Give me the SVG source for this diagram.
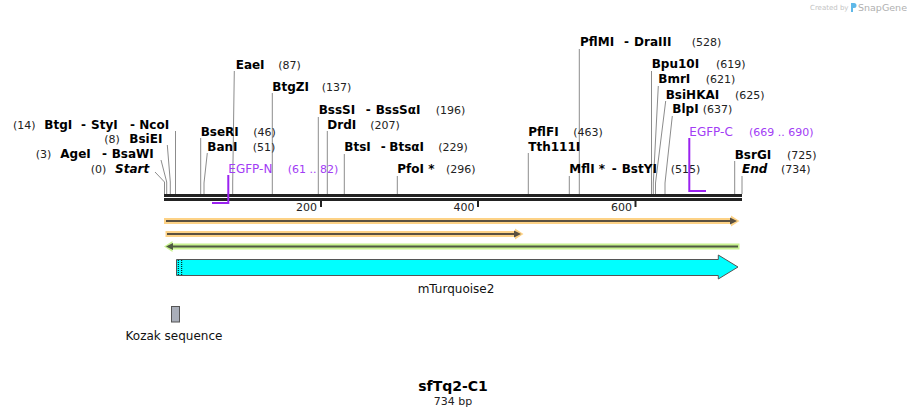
<svg xmlns="http://www.w3.org/2000/svg" width="907" height="417" viewBox="0 0 907 417">
<style>
text { font-family: "DejaVu Sans", Verdana, sans-serif; }
.n { font-size: 12px; font-weight: bold; fill: #000; }
.i { font-size: 12px; font-weight: bold; font-style: italic; fill: #000; }
.p { font-size: 11px; fill: #222; }
.f { font-size: 12px; fill: #a23cf5; }
.fp { font-size: 11px; fill: #a23cf5; }
.t { font-size: 11px; fill: #222; }
.lb { font-size: 12px; fill: #111; }
.ln { stroke: #8c8c8c; stroke-width: 1; fill: none; }
.pr { stroke: #9b22f0; stroke-width: 2; fill: none; }
.tk { stroke: #222; stroke-width: 2; }
</style>
<rect width="907" height="417" fill="#fff"/>

<g id="watermark">
<text x="810" y="10" style="font-size:7px;fill:#c4c4c4">Created by</text>
<path d="M851,3 h3 a2.5,2.5 0 0 1 0,5 h-1 v4 h-2 z" fill="#5fb8e8"/>
<text x="858" y="11" style="font-size:9.5px;fill:#b0b0b0">SnapGene</text>
</g>

<g id="connectors">
<polyline class="ln" points="155,172 164.5,182 164.5,194"/>
<polyline class="ln" points="161,160 166.7,182 166.7,194"/>
<polyline class="ln" points="167.3,145 170.3,182 170.3,194"/>
<polyline class="ln" points="175.5,131 175.5,194"/>
<polyline class="ln" points="200.7,138 200.7,194"/>
<polyline class="ln" points="207.3,153 204,183 204,194"/>
<polyline class="ln" points="234.3,71 232.7,183 232.7,194"/>
<polyline class="ln" points="272.3,93 272.3,194"/>
<polyline class="ln" points="318.3,117 318.3,194"/>
<polyline class="ln" points="327.3,131 327.3,194"/>
<polyline class="ln" points="344.3,154 344.3,194"/>
<polyline class="ln" points="397.3,176 397.3,194"/>
<polyline class="ln" points="528.3,153 528.3,194"/>
<polyline class="ln" points="569.3,176 569.3,194"/>
<polyline class="ln" points="579.3,49 579.3,194"/>
<polyline class="ln" points="651.5,71 651.5,194"/>
<polyline class="ln" points="658.3,86 653.3,183 653.3,194"/>
<polyline class="ln" points="665.7,101 655.5,183 655.5,194"/>
<polyline class="ln" points="672.3,116 665,183 665,194"/>
<polyline class="ln" points="734.7,161 734.7,194"/>
<polyline class="ln" points="742,176 742,194"/>
</g>

<g id="backbone">
<rect x="164" y="194" width="578" height="3" fill="#222"/>
<rect x="164" y="198" width="578" height="3" fill="#222"/>
<line class="tk" x1="321" y1="200" x2="321" y2="207"/>
<line class="tk" x1="478" y1="200" x2="478" y2="207"/>
<line class="tk" x1="635.5" y1="200" x2="635.5" y2="207"/>
<text class="t" x="317" y="211" text-anchor="end">200</text>
<text class="t" x="474.5" y="211" text-anchor="end">400</text>
<text class="t" x="632" y="211" text-anchor="end">600</text>
</g>

<g id="site-BtgI-StyI-NcoI">
<text class="p" x="13" y="129">(14)</text>
<text class="n" x="44.3" y="129">BtgI</text>
<text class="n" x="81" y="129">-</text>
<text class="n" x="91" y="129">StyI</text>
<text class="n" x="130" y="129">-</text>
<text class="n" x="139.3" y="129">NcoI</text>
</g>
<g id="site-BsiEI">
<text class="p" x="104.3" y="143.3">(8)</text>
<text class="n" x="129.3" y="143.3">BsiEI</text>
</g>
<g id="site-AgeI-BsaWI">
<text class="p" x="35.7" y="158.3">(3)</text>
<text class="n" x="60.3" y="158.3">AgeI</text>
<text class="n" x="102" y="158.3">-</text>
<text class="n" x="111.7" y="158.3">BsaWI</text>
</g>
<g id="site-Start">
<text class="p" x="90.7" y="173.3">(0)</text>
<text class="i" x="115" y="173.3">Start</text>
</g>
<g id="site-BseRI">
<text class="n" x="200.7" y="136">BseRI</text>
<text class="p" x="253.3" y="136">(46)</text>
</g>
<g id="site-BanI">
<text class="n" x="207.3" y="151">BanI</text>
<text class="p" x="252.7" y="151">(51)</text>
</g>
<g id="site-EaeI">
<text class="n" x="235.7" y="69">EaeI</text>
<text class="p" x="278.3" y="69">(87)</text>
</g>
<g id="site-BtgZI">
<text class="n" x="272.3" y="91">BtgZI</text>
<text class="p" x="321.7" y="91">(137)</text>
</g>
<g id="site-BssSI-BssSaI">
<text class="n" x="318.7" y="114.3">BssSI</text>
<text class="n" x="365.7" y="114.3">-</text>
<text class="n" x="375.7" y="114.3">BssSαI</text>
<text class="p" x="435.7" y="114.3">(196)</text>
</g>
<g id="site-DrdI">
<text class="n" x="327.3" y="129">DrdI</text>
<text class="p" x="370.3" y="129">(207)</text>
</g>
<g id="site-BtsI-BtsaI">
<text class="n" x="344.3" y="151">BtsI</text>
<text class="n" x="380.7" y="151">-</text>
<text class="n" x="389.3" y="151">BtsαI</text>
<text class="p" x="438.3" y="151">(229)</text>
</g>
<g id="site-PfoI">
<text class="n" x="397.3" y="173.3">PfoI *</text>
<text class="p" x="446" y="173.3">(296)</text>
</g>
<g id="site-PflFI-Tth111I">
<text class="n" x="528.3" y="136">PflFI</text>
<text class="p" x="573.3" y="136">(463)</text>
<text class="n" x="528.3" y="150.7">Tth111I</text>
</g>
<g id="site-MflI-BstYI">
<text class="n" x="569.3" y="173.3">MflI *</text>
<text class="n" x="611.7" y="173.3">-</text>
<text class="n" x="621.7" y="173.3">BstYI</text>
<text class="p" x="670.7" y="173.3">(515)</text>
</g>
<g id="site-PflMI-DraIII">
<text class="n" x="580" y="46">PflMI</text>
<text class="n" x="624" y="46">-</text>
<text class="n" x="634" y="46">DraIII</text>
<text class="p" x="691.7" y="46">(528)</text>
</g>
<g id="site-Bpu10I">
<text class="n" x="651.7" y="68.3">Bpu10I</text>
<text class="p" x="716" y="68.3">(619)</text>
</g>
<g id="site-BmrI">
<text class="n" x="658.3" y="83.3">BmrI</text>
<text class="p" x="705.7" y="83.3">(621)</text>
</g>
<g id="site-BsiHKAI">
<text class="n" x="665.7" y="98.7">BsiHKAI</text>
<text class="p" x="735" y="98.7">(625)</text>
</g>
<g id="site-BlpI">
<text class="n" x="672.3" y="113.3">BlpI</text>
<text class="p" x="702.7" y="113.3">(637)</text>
</g>
<g id="site-BsrGI">
<text class="n" x="734.7" y="158.7">BsrGI</text>
<text class="p" x="787" y="158.7">(725)</text>
</g>
<g id="site-End">
<text class="i" x="742" y="173.3">End</text>
<text class="p" x="781" y="173.3">(734)</text>
</g>

<g id="primer-EGFP-N">
<polyline class="pr" points="228.3,175 228.3,203 212,203"/>
<text class="f" x="228.3" y="173.3">EGFP-N</text>
<text class="fp" x="287.7" y="173.3">(61 .. 82)</text>
</g>
<g id="primer-EGFP-C">
<polyline class="pr" points="689.3,138 689.3,191 706,191"/>
<text class="f" x="689.3" y="136">EGFP-C</text>
<text class="fp" x="749" y="136">(669 .. 690)</text>
</g>

<g id="feature-orange-1">
<polygon points="164,218 731,218 731,215.5 739.5,221 731,226.5 731,224 164,224" fill="#fdd286"/>
<line x1="166" y1="221" x2="733" y2="221" stroke="#5a5040" stroke-width="2"/>
<polygon points="730,217.5 737,221 730,224.5" fill="#5a5040"/>
</g>
<g id="feature-orange-2">
<polygon points="165.5,231 515,231 515,228.5 523.5,234 515,239.5 515,237 165.5,237" fill="#fdd286"/>
<line x1="167" y1="234" x2="517" y2="234" stroke="#5a5040" stroke-width="2"/>
<polygon points="514,230.5 521,234 514,237.5" fill="#5a5040"/>
</g>
<g id="feature-green">
<polygon points="164,246.5 172.5,241 172.5,243.5 739.5,243.5 739.5,249.5 172.5,249.5 172.5,252" fill="#c8f290"/>
<line x1="171" y1="246.5" x2="738" y2="246.5" stroke="#4f5a42" stroke-width="2"/>
<polygon points="166,246.5 173,243 173,250" fill="#4f5a42"/>
</g>
<g id="feature-mTurquoise2">
<polygon points="176.5,259.5 718.3,259.5 718.3,255 738,267 718.3,279 718.3,275.5 176.5,275.5" fill="#00ffff" stroke="#555" stroke-width="1"/>
<line x1="178.3" y1="260" x2="178.3" y2="275" stroke="#000" stroke-width="1" stroke-dasharray="1,1"/>
<line x1="181.7" y1="260" x2="181.7" y2="275" stroke="#000" stroke-width="1" stroke-dasharray="1,1"/>
<text class="lb" x="456" y="293" text-anchor="middle">mTurquoise2</text>
</g>
<g id="feature-Kozak">
<rect x="171.5" y="306.5" width="8" height="15.5" fill="#a9aeb9" stroke="#555" stroke-width="1"/>
<text class="lb" x="174" y="339.5" text-anchor="middle">Kozak sequence</text>
</g>

<g id="title">
<text x="453" y="391" text-anchor="middle" style="font-size:14px;font-weight:bold;fill:#000">sfTq2-C1</text>
<text x="453" y="405" text-anchor="middle" style="font-size:11px;fill:#222">734 bp</text>
</g>
</svg>
